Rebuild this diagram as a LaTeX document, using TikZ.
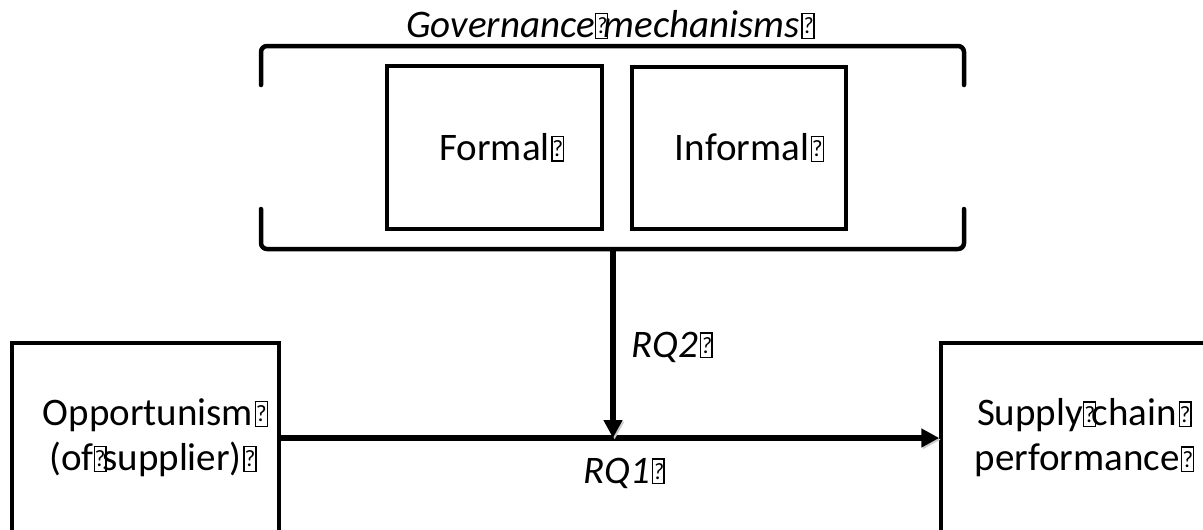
\documentclass[tikz,border=0pt]{standalone}
\usepackage{graphicx}
\usepackage{fontspec}
\setmainfont{Carlito}
\usetikzlibrary{arrows.meta}
% placeholder glyph: a framed question mark
\newcommand\tofu{{\fboxsep=0pt\fboxrule=0.035em\fbox{\makebox[0.27em]{\rule{0pt}{0.6em}\raisebox{0.1em}{\scalebox{0.6}{?}}}}}}
% in place of a space: advances by one space width
\newcommand\tofusp{\makebox[0.226em][l]{\tofu}}
% at the end of a line: takes no width
\newcommand\tofuend{\rlap{\kern0.04em\tofu}}
\begin{document}
\begin{tikzpicture}[x=1pt,y=-1pt,
  every node/.style={font=\fontsize{39}{45}\selectfont},
  box/.style={draw, line width=3.5pt, align=center, inner sep=0pt},
  lbl/.style={font=\fontsize{39}{45}\selectfont\itshape},
  soft/.style={preaction={draw=black!20, transform canvas={shift={(1.6pt,-1.6pt)}}}},
  conn/.style={soft, line width=5.5pt, -{Triangle[length=18pt,width=18pt]}},
  brk/.style={soft, line width=4.5pt, rounded corners=6pt, line cap=round}]
\useasboundingbox (0,0) rectangle (1203,530);

% title and bracket around the two mechanisms
\node[lbl] (title) at (603,25) {Governance\tofusp mechanisms\tofuend};
\draw[brk] (261,85) -- (261,46) -- (964,46) -- (964,85);
\draw[brk] (261,209) -- (261,249) -- (964,249) -- (964,209);
\coordinate (gm) at (613,249);

% mechanism boxes
\node[box, minimum width=215pt, minimum height=163pt] (formal) at (494.5,147.5) {Formal\tofuend};
\node[box, minimum width=214pt, minimum height=162pt] (informal) at (739,148) {\hspace*{6pt}Informal\tofuend};

% main constructs
\node[box, minimum width=267pt, minimum height=190pt] (opp) at (145.5,438) {\hspace*{5pt}Opportunism\tofuend\\(of\tofusp supplier)\tofuend};
\node[box, minimum width=272pt, minimum height=190pt] (scp) at (1077,438) {Supply\tofusp chain\tofuend\\performance\tofuend};

% relations
\draw[conn] (opp.east) -- (scp.west);
\draw[conn] (gm) -- (gm |- opp.east);
\node[lbl, anchor=base west] (rq2) at (628,357) {RQ2\tofuend};
\node[lbl, anchor=base west] (rq1) at (580,483) {RQ1\tofuend};
\end{tikzpicture}
\end{document}
